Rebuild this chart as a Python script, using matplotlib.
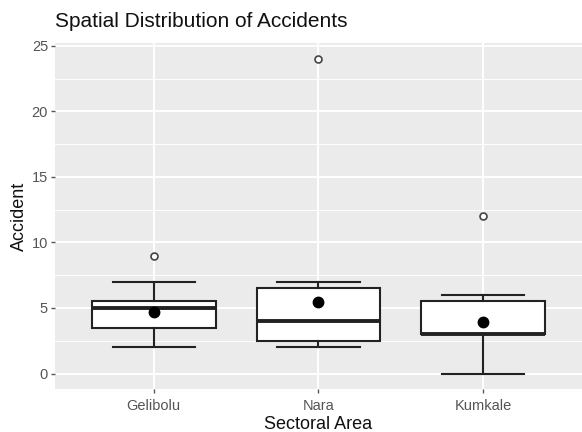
import matplotlib
matplotlib.use("Agg")
import matplotlib.pyplot as plt
from matplotlib.ticker import MultipleLocator

plt.rcParams['font.family'] = ['Liberation Sans', 'DejaVu Sans']

# Summary statistics per sector
areas = ['Gelibolu', 'Nara', 'Kumkale']
q1 = [3.5, 2.5, 3.0]
medians = [5.0, 4.0, 3.0]
q3 = [5.5, 6.5, 5.5]
whisker_low = [2.0, 2.0, 0.0]
whisker_high = [7.0, 7.0, 6.0]
outliers = [[9.0], [24.0], [12.0]]
means = [4.67, 5.45, 3.9]

stats = []
for i, name in enumerate(areas):
    stats.append({
        'label': name,
        'q1': q1[i], 'med': medians[i], 'q3': q3[i],
        'whislo': whisker_low[i], 'whishi': whisker_high[i],
        'fliers': outliers[i], 'mean': means[i],
    })

fig = plt.figure(figsize=(5.82, 4.32), dpi=100)
ax = fig.add_axes([0.0945, 0.099, 0.9055, 0.801])
ax.set_facecolor('#EBEBEB')

pos = list(range(1, len(areas) + 1))
ax.bxp(
    stats, positions=pos, widths=0.75, capwidths=0.5,
    showmeans=True, showfliers=True, patch_artist=True,
    boxprops=dict(facecolor='white', edgecolor='#222222', linewidth=1.5),
    medianprops=dict(color='#222222', linewidth=2.8),
    whiskerprops=dict(color='#222222', linewidth=1.5),
    capprops=dict(color='#222222', linewidth=1.5),
    flierprops=dict(marker='o', markersize=5, markerfacecolor='white',
                    markeredgecolor='#444444', markeredgewidth=1.2),
    meanprops=dict(marker='o', markersize=7.5, markerfacecolor='black',
                   markeredgecolor='black'),
    zorder=3,
)

ax.set_xlim(0.4, 3.6)
ax.set_ylim(-1.2, 25.2)
ax.yaxis.set_major_locator(MultipleLocator(5))
ax.yaxis.set_minor_locator(MultipleLocator(2.5))
ax.set_xticks(pos)
ax.set_xticklabels(areas)

ax.grid(which='major', color='white', linewidth=1.4, zorder=0)
ax.grid(which='minor', axis='y', color='white', linewidth=0.7, zorder=0)
ax.set_axisbelow(True)
for s in ax.spines.values():
    s.set_visible(False)

ax.tick_params(axis='both', which='major', length=3, width=1.0, color='#555555',
               labelcolor='#555555', labelsize=10.5, pad=2)
ax.tick_params(axis='x', which='major', pad=4)
ax.tick_params(axis='y', which='minor', length=0)

ax.set_xlabel('Sectoral Area', fontsize=13, color='#111111', labelpad=2)
ax.set_ylabel('Accident', fontsize=13, color='#111111', labelpad=3)
ax.set_title('Spatial Distribution of Accidents', fontsize=15, loc='left',
             x=0.0, pad=12, color='#111111')

fig.savefig('out.png', dpi=100, facecolor='white')
